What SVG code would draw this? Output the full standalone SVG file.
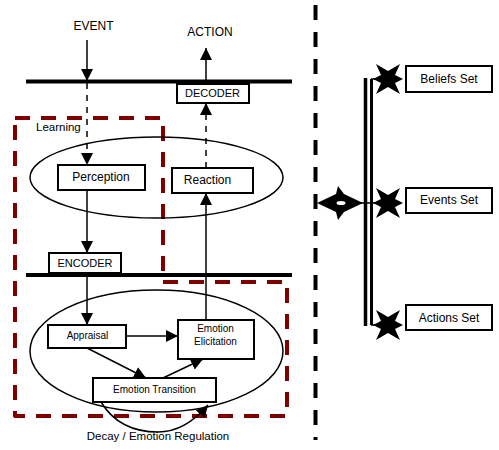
<svg xmlns="http://www.w3.org/2000/svg" width="499" height="450" viewBox="0 0 499 450">
<style>
text{font-family:"Liberation Sans",Arial,sans-serif;fill:#000}
.box{fill:#fff;stroke:#000;stroke-width:2}
.ln{stroke:#000;stroke-width:1.5;fill:none}
.dash{stroke:#000;stroke-width:1.5;fill:none;stroke-dasharray:6 6}
.bar{stroke:#000;stroke-width:4}
.ell{fill:none;stroke:#000;stroke-width:1.5}
.t12{font-size:12px;text-anchor:middle}
.t11{font-size:11px;text-anchor:middle}
.t10{font-size:10px;text-anchor:middle}
</style>
<defs>
<marker id="ah" viewBox="0 0 12 12" refX="12" refY="6" markerWidth="12" markerHeight="12" markerUnits="userSpaceOnUse" orient="auto">
<path d="M0,0 L12,6 L0,12 Z" fill="#000"/>
</marker>
<path id="star" d="M15,0 L7,4 L12,15 L0,8 L-12,15 L-7,4 L-15,0 L-7,-4 L-12,-15 L0,-8 L12,-15 L7,-4 Z" fill="#000"/>
</defs>

<!-- background structure -->
<g id="separator">
<line x1="315.5" y1="5" x2="315.5" y2="440" stroke="#000" stroke-width="4" stroke-dasharray="15 12"/>
</g>
<g id="bars">
<line class="bar" x1="26" y1="81.5" x2="292" y2="81.5"/>
<line class="bar" x1="26" y1="275" x2="292" y2="275"/>
</g>

<g id="learning">
<path d="M15,118 L163,118 L163,282 L287,282 L287,416 L15,416 Z" fill="none" stroke="#800000" stroke-width="4" stroke-dasharray="15 11" stroke-linejoin="round"/>
<text x="36" y="131" font-size="11.5px">Learning</text>
</g>

<g id="ellipse-upper"><ellipse class="ell" cx="156.5" cy="177.5" rx="126.5" ry="40.5"/></g>
<g id="ellipse-lower"><ellipse class="ell" cx="156.5" cy="351" rx="126.5" ry="61"/></g>

<g id="connectors">
<line class="ln" x1="87" y1="40" x2="87" y2="81" marker-end="url(#ah)"/>
<line class="dash" x1="87" y1="83" x2="87" y2="165" marker-end="url(#ah)"/>
<line class="ln" x1="206" y1="81" x2="206" y2="48" marker-end="url(#ah)"/>
<line class="dash" x1="206" y1="168" x2="206" y2="103" marker-end="url(#ah)"/>
<line class="ln" x1="87" y1="190" x2="87" y2="253" marker-end="url(#ah)"/>
<line class="ln" x1="206" y1="320" x2="206" y2="193" marker-end="url(#ah)"/>
<line class="ln" x1="87" y1="276" x2="87" y2="325" marker-end="url(#ah)"/>
<line class="ln" x1="126" y1="336" x2="178" y2="336" marker-end="url(#ah)"/>
<line class="ln" x1="87" y1="348" x2="146" y2="378" marker-end="url(#ah)"/>
<line class="ln" x1="163" y1="378" x2="203" y2="359" marker-end="url(#ah)"/>
<path class="ln" d="M101,402 C115,425 135,432 158,432 C180,432 196,419 208,405" marker-end="url(#ah)"/>
<line x1="365.5" y1="78" x2="365.5" y2="326" stroke="#000" stroke-width="3.5"/>
<line x1="371.5" y1="79" x2="371.5" y2="325" stroke="#000" stroke-width="3"/>
<line class="ln" x1="371" y1="79" x2="388" y2="79"/>
<line class="ln" x1="360" y1="203" x2="388" y2="203"/>
<line class="ln" x1="371" y1="325" x2="388" y2="325"/>
<polygon points="317,203 336,194 338,186 344,194 363,203 344,212 338,220 336,212" fill="#000"/>
<ellipse cx="341" cy="203" rx="4.5" ry="2" fill="#fff"/>
<use href="#star" x="388" y="79"/>
<use href="#star" x="388" y="203"/>
<use href="#star" x="388" y="325"/>
</g>

<g id="event"><text class="t12" x="93.5" y="30">EVENT</text></g>
<g id="action"><text class="t12" x="210" y="36">ACTION</text></g>
<g id="decoder"><rect class="box" x="177" y="84" width="72" height="19"/><text class="t11" x="212.5" y="97">DECODER</text></g>
<g id="perception"><rect class="box" x="58" y="165" width="87" height="25"/><text class="t12" x="101" y="181">Perception</text></g>
<g id="reaction"><rect class="box" x="172" y="168" width="81" height="25"/><text class="t12" x="207.5" y="184">Reaction</text></g>
<g id="encoder"><rect class="box" x="49" y="253" width="72" height="20"/><text class="t11" x="85" y="267">ENCODER</text></g>
<g id="appraisal"><rect class="box" x="48" y="325" width="78" height="23"/><text class="t10" x="87.5" y="339">Appraisal</text></g>
<g id="elicitation"><rect class="box" x="178" y="320" width="76" height="39"/><text class="t10" x="215.5" y="332">Emotion</text><text class="t10" x="215.5" y="345">Elicitation</text></g>
<g id="transition"><rect class="box" x="93" y="378" width="123" height="24"/><text class="t10" x="154.5" y="393">Emotion Transition</text></g>
<g id="decay"><text x="158" y="440" font-size="11.5px" text-anchor="middle">Decay / Emotion Regulation</text></g>
<g id="beliefs"><rect class="box" x="406" y="66" width="86" height="26"/><text class="t12" x="449" y="83">Beliefs Set</text></g>
<g id="events"><rect class="box" x="406" y="188" width="86" height="25"/><text class="t12" x="449" y="204">Events Set</text></g>
<g id="actions"><rect class="box" x="406" y="305" width="86" height="25"/><text class="t12" x="449" y="322">Actions Set</text></g>
</svg>
